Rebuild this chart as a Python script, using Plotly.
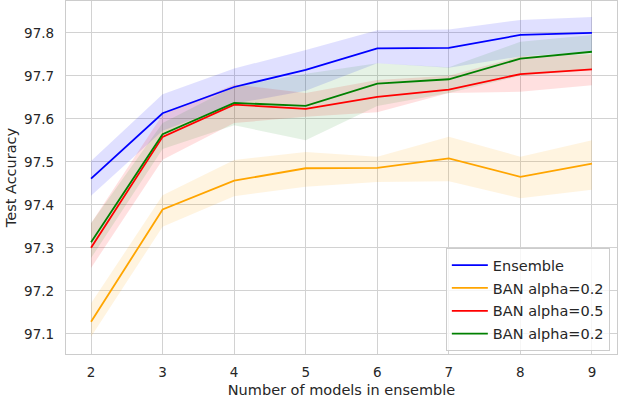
import plotly.graph_objects as go

n_models = [2, 3, 4, 5, 6, 7, 8, 9]

ensemble_mean = [97.461, 97.613, 97.674, 97.714, 97.764, 97.765, 97.795, 97.800]
ensemble_low = [97.421, 97.572, 97.635, 97.665, 97.729, 97.719, 97.745, 97.756]
ensemble_high = [97.502, 97.657, 97.717, 97.760, 97.806, 97.808, 97.830, 97.837]

ban02_mean = [97.128, 97.389, 97.456, 97.485, 97.486, 97.508, 97.465, 97.496]
ban02_low = [97.093, 97.349, 97.420, 97.442, 97.453, 97.455, 97.415, 97.435]
ban02_high = [97.171, 97.422, 97.504, 97.523, 97.512, 97.558, 97.512, 97.550]

ban05_mean = [97.300, 97.558, 97.633, 97.623, 97.651, 97.668, 97.704, 97.715]
ban05_low = [97.253, 97.505, 97.590, 97.605, 97.615, 97.660, 97.663, 97.678]
ban05_high = [97.357, 97.610, 97.680, 97.660, 97.690, 97.700, 97.745, 97.750]

ban02b_mean = [97.313, 97.564, 97.637, 97.630, 97.682, 97.692, 97.740, 97.756]
ban02b_low = [97.276, 97.530, 97.585, 97.550, 97.630, 97.660, 97.700, 97.715]
ban02b_high = [97.357, 97.590, 97.675, 97.705, 97.729, 97.720, 97.779, 97.795]

series = [
    ("Ensemble", ensemble_mean, ensemble_low, ensemble_high, "#0000ff", "rgba(0,0,255,0.12)"),
    ("BAN alpha=0.2", ban02_mean, ban02_low, ban02_high, "#ffa500", "rgba(255,165,0,0.12)"),
    ("BAN alpha=0.5", ban05_mean, ban05_low, ban05_high, "#ff0000", "rgba(255,0,0,0.12)"),
    ("BAN alpha=0.2", ban02b_mean, ban02b_low, ban02b_high, "#008000", "rgba(0,128,0,0.10)"),
]

fig = go.Figure()

for name, mean, low, high, color, fill in series:
    fig.add_trace(go.Scatter(
        x=n_models + n_models[::-1],
        y=high + low[::-1],
        fill="toself", fillcolor=fill, mode="none",
        line=dict(width=0), hoverinfo="skip", showlegend=False,
    ))

for i, (name, mean, low, high, color, fill) in enumerate(series):
    fig.add_trace(go.Scatter(
        x=n_models, y=mean, mode="lines", name=name,
        line=dict(color=color, width=1.8),
        legendgroup=f"g{i}",
    ))

font_family = "DejaVu Sans"
grid = "#d2d2d2"

fig.update_layout(
    width=618, height=398,
    margin=dict(l=66, r=1, t=1, b=44),
    paper_bgcolor="white", plot_bgcolor="white",
    font=dict(family=font_family, size=13, color="#262626"),
    showlegend=True,
    legend=dict(
        x=0.987, y=0.008, xanchor="right", yanchor="bottom",
        bgcolor="rgba(255,255,255,0.8)", bordercolor="#cccccc", borderwidth=1,
        font=dict(family=font_family, size=14.5, color="#262626"),
        itemwidth=36, tracegroupgap=1,
    ),
    xaxis=dict(
        range=[1.65, 9.35],
        tickvals=n_models,
        ticktext=[str(v) for v in n_models],
        showgrid=True, gridcolor=grid, gridwidth=1,
        showline=True, mirror=True, linecolor="#cccccc", linewidth=1.3,
        zeroline=False, ticks="", automargin=False,
        tickfont=dict(size=13.5),
        ticklabelstandoff=6,
        title=dict(text="Number of models in ensemble", font=dict(size=14.5), standoff=5),
    ),
    yaxis=dict(
        range=[97.053, 97.874],
        tickvals=[97.1, 97.2, 97.3, 97.4, 97.5, 97.6, 97.7, 97.8],
        ticktext=["97.1", "97.2", "97.3", "97.4", "97.5", "97.6", "97.7", "97.8"],
        showgrid=True, gridcolor=grid, gridwidth=1,
        showline=True, mirror=True, linecolor="#cccccc", linewidth=1.3,
        zeroline=False, ticks="", automargin=False,
        tickfont=dict(size=13.5),
        ticklabelstandoff=8,
        title=dict(text="Test Accuracy", font=dict(size=14.5), standoff=4),
    ),
)

fig.write_html("out.html", config={"displayModeBar": False},
               post_script="document.body.style.margin='0';")
